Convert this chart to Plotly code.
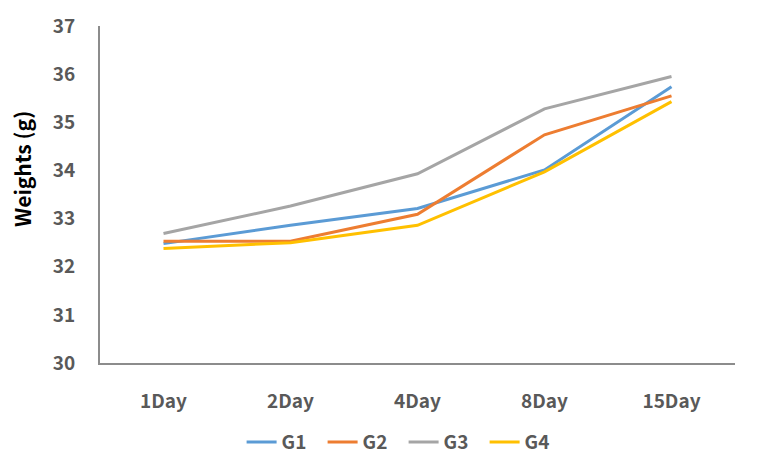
import plotly.graph_objects as go

days = ["1Day", "2Day", "4Day", "8Day", "15Day"]
g1 = [32.48, 32.86, 33.21, 34.01, 35.74]
g2 = [32.53, 32.53, 33.09, 34.74, 35.55]
g3 = [32.69, 33.26, 33.93, 35.28, 35.95]
g4 = [32.38, 32.50, 32.86, 33.97, 35.43]

series = [("G1", g1, "#5B9BD5"), ("G2", g2, "#ED7D31"), ("G3", g3, "#A5A5A5"), ("G4", g4, "#FFC000")]

FONT = "Noto Sans CJK KR"

fig = go.Figure()
for name, vals, col in series:
    fig.add_trace(go.Scatter(x=days, y=vals, name=name, mode="lines",
                             line=dict(color=col, width=3)))

fig.update_layout(
    width=758, height=476,
    margin=dict(l=100, r=23, t=26, b=113),
    paper_bgcolor="white", plot_bgcolor="white",
    font=dict(family=FONT, color="#595959", size=18),
    showlegend=True,
    legend=dict(orientation="h", x=0.223, xanchor="left", y=-0.235, yanchor="middle",
                font=dict(family=FONT, size=19, color="#595959", weight="bold"),
                entrywidth=36, entrywidthmode="pixels",
                tracegroupgap=0),
    annotations=[dict(text="Weights (g)", xref="paper", yref="paper",
                      x=-0.1228, y=0.5757, xanchor="center", yanchor="middle",
                      textangle=-90, showarrow=False,
                      font=dict(family=FONT, size=21, color="black", weight="bold"))],
)
fig.update_xaxes(
    type="category", range=[-0.5, 4.5],
    showline=True, linecolor="#8C8C8C", linewidth=2,
    showgrid=False, zeroline=False, ticks="",
    ticklabelstandoff=20,
    tickfont=dict(family=FONT, size=19, color="#595959", weight="bold"),
)
fig.update_yaxes(
    range=[30, 37], dtick=1,
    showline=True, linecolor="#8C8C8C", linewidth=2,
    showgrid=False, zeroline=False, ticks="",
    ticklabelstandoff=19,
    tickfont=dict(family=FONT, size=19, color="#595959", weight="bold"),
)

fig.write_html("out.html")
